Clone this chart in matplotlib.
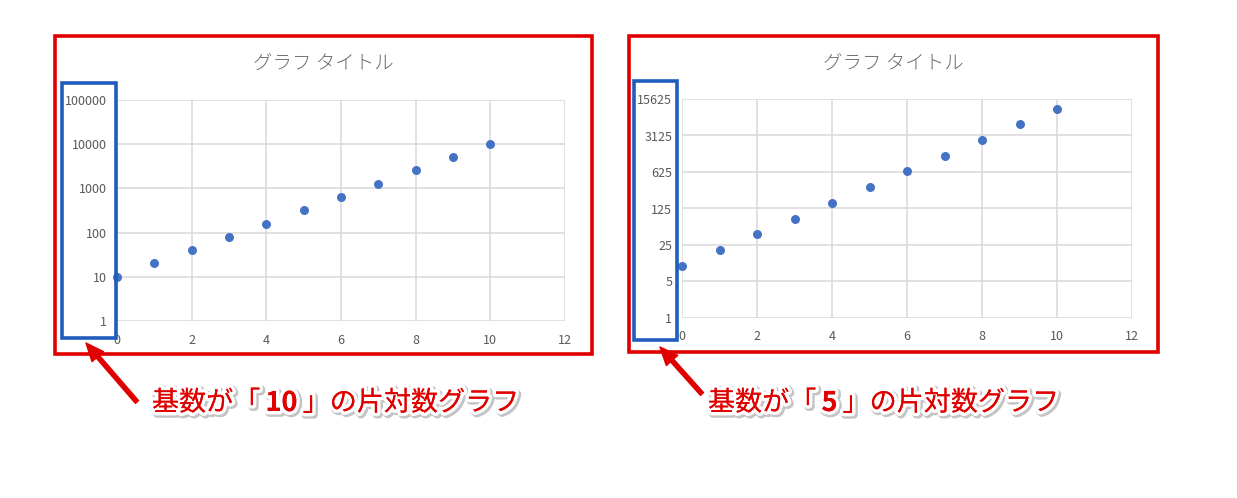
import matplotlib
matplotlib.use("Agg")
import matplotlib.pyplot as plt
import matplotlib.patheffects as pe
from matplotlib.patches import Rectangle
from matplotlib.ticker import FixedLocator, FixedFormatter, NullLocator

# --- data ---
x_vals = [0, 1, 2, 3, 4, 5, 6, 7, 8, 9, 10]
y_vals = [10, 20, 40, 80, 160, 320, 640, 1280, 2560, 5120, 10240]

x_ticks = [0, 2, 4, 6, 8, 10, 12]
ticks_base10 = [1, 10, 100, 1000, 10000, 100000]
ticks_base5 = [1, 5, 25, 125, 625, 3125, 15625]

title = "グラフ タイトル"
note_left = ["基数が「", "10", "」の片対数グラフ"]
note_right = ["基数が「", "5", "」の片対数グラフ"]

W, H = 1237, 498
JP = ["Noto Sans CJK JP", "DejaVu Sans"]
RED = "#E00000"
BLUE = "#1F5DBE"
GRAY = "#595959"
GRID = "#D9D9D9"
DOT = "#4472C4"

fig = plt.figure(figsize=(W / 100, H / 100), dpi=100)
fig.patch.set_facecolor("white")


def px_axes(x0, y0, x1, y1, **kw):
    return fig.add_axes([x0 / W, 1 - y1 / H, (x1 - x0) / W, (y1 - y0) / H], **kw)


def chart(box, base, ticks):
    ax = px_axes(*box)
    ax.scatter(x_vals, y_vals, s=42, color=DOT, zorder=3, clip_on=False, linewidths=0)
    ax.set_yscale("log", base=base)
    ax.set_xlim(0, 12)
    ax.set_ylim(ticks[0], ticks[-1])
    ax.xaxis.set_major_locator(FixedLocator(x_ticks))
    ax.yaxis.set_major_locator(FixedLocator(ticks))
    ax.yaxis.set_major_formatter(FixedFormatter([str(t) for t in ticks]))
    ax.yaxis.set_minor_locator(NullLocator())
    ax.grid(True, color=GRID, linewidth=1.1)
    ax.set_axisbelow(True)
    for s in ax.spines.values():
        s.set_visible(False)
    ax.tick_params(length=0, labelsize=9, labelcolor=GRAY, pad=7)
    ax.tick_params(axis="x", pad=9)
    for lab in ax.get_xticklabels() + ax.get_yticklabels():
        lab.set_family(JP)
    return ax


chart((117, 100, 565, 321), 10, ticks_base10)
chart((682, 99, 1132, 318), 5, ticks_base5)

# overlay in pixel coordinates for frames, titles and notes
ov = fig.add_axes([0, 0, 1, 1], facecolor="none")
ov.set_xlim(0, W)
ov.set_ylim(H, 0)
ov.axis("off")

for cx, cy in [(323, 64), (893, 64)]:
    ov.text(cx, cy, title, ha="center", va="center", fontsize=14, color="#6e6e6e",
            family=JP, fontweight="light")

# red frames around charts
ov.add_patch(Rectangle((55, 36), 537, 318, fill=False, edgecolor=RED, linewidth=2.6))
ov.add_patch(Rectangle((629, 36), 529, 316, fill=False, edgecolor=RED, linewidth=2.6))

# blue frames around y tick labels
ov.add_patch(Rectangle((62, 83), 54, 255, fill=False, edgecolor=BLUE, linewidth=2.6))
ov.add_patch(Rectangle((634, 81), 43, 259, fill=False, edgecolor=BLUE, linewidth=2.6))

# arrows
arrow = dict(arrowstyle="simple,head_length=1.3,head_width=1.1,tail_width=0.3",
             color=RED, shrinkA=0, shrinkB=0)
ov.annotate("", xy=(86, 343), xytext=(137, 402), arrowprops=arrow)
ov.annotate("", xy=(660, 347), xytext=(702, 394), arrowprops=arrow)

effects = [
    pe.withStroke(linewidth=6, foreground="#c4c4c4", offset=(1.2, -1.2)),
    pe.withStroke(linewidth=5, foreground="white"),
    pe.Normal(),
]

renderer = fig.canvas.get_renderer()


def note(x, y, parts):
    # CJK parts in normal weight, the number in bold with a little space around it
    for i, part in enumerate(parts):
        if i == 1:
            x += 5
        t = ov.text(x, y, part, ha="left", va="center", fontsize=19.5,
                    fontweight="bold" if i == 1 else "normal",
                    color=RED, family=JP, path_effects=effects)
        bb = t.get_window_extent(renderer)
        x = ov.transData.inverted().transform((bb.x1, 0))[0]
        if i == 1:
            x += 5


note(152, 403, note_left)
note(708, 403, note_right)

fig.savefig("out.png", dpi=100, facecolor="white")
